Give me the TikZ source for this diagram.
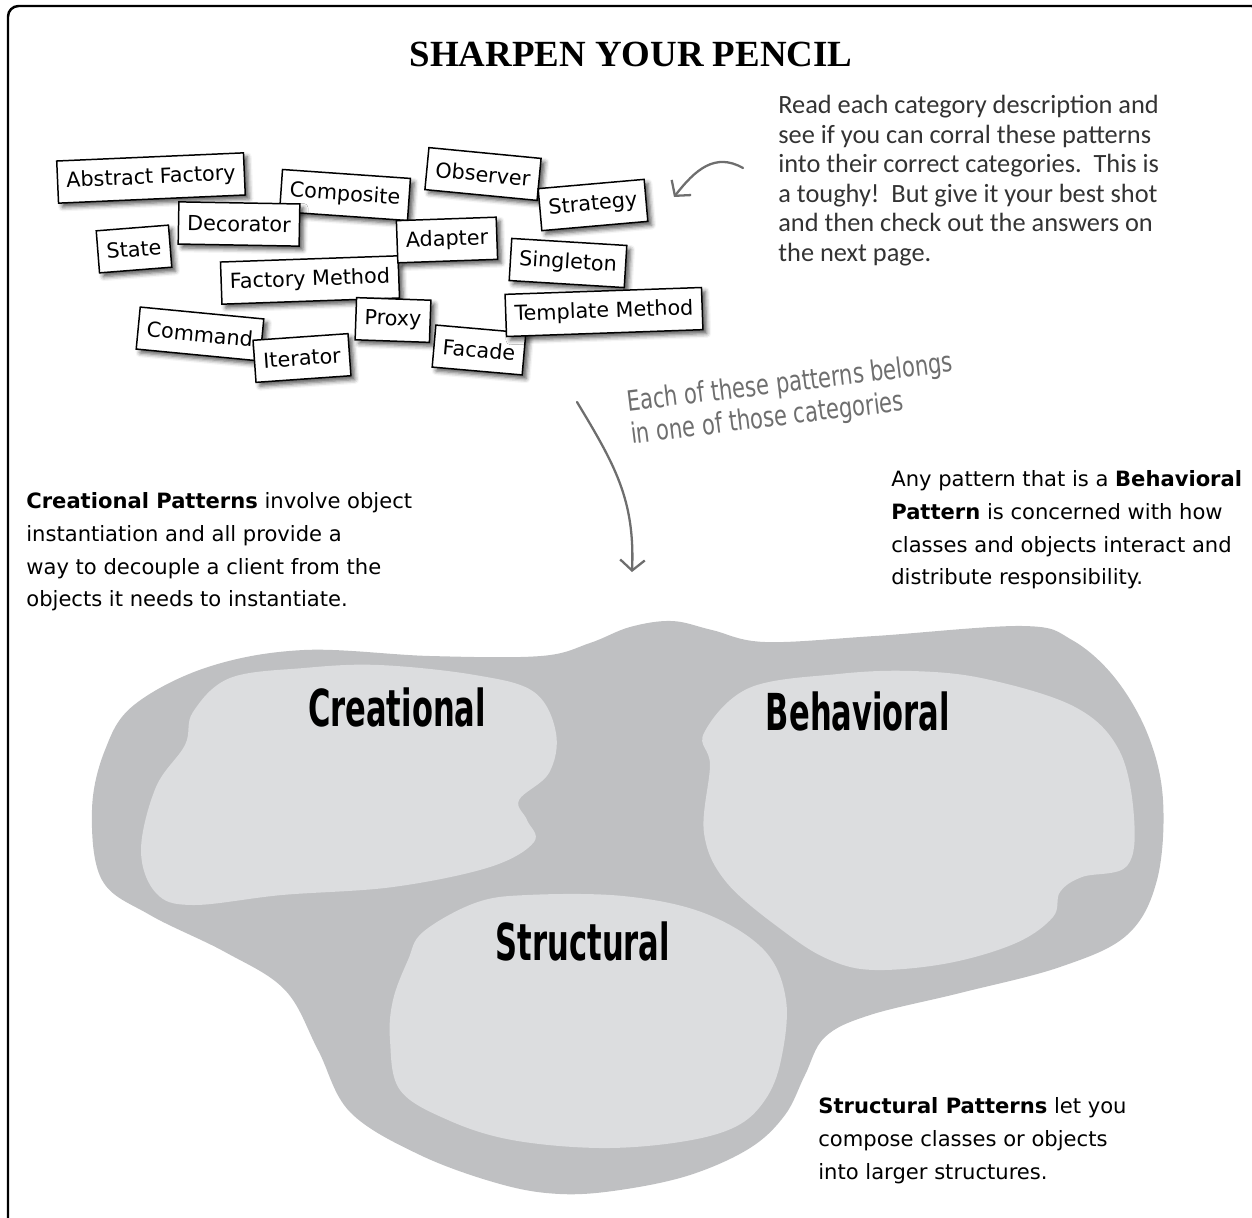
\documentclass[tikz,border=0pt]{standalone}
\usepackage{fontspec}
\setmainfont{DejaVu Sans}
\newfontfamily\titlefont{Liberation Serif}
\newfontfamily\descfont{Carlito}
\newfontfamily\condfont[FakeStretch=0.75]{DejaVu Sans}
\usetikzlibrary{shadows.blur,arrows.meta}
\definecolor{outerg}{RGB}{191,192,194}
\definecolor{innerg}{RGB}{220,221,223}
\definecolor{arrowg}{RGB}{110,110,110}
\tikzset{
  pat/.style={draw=black, line width=0.85pt, fill=white, inner xsep=5pt, minimum height=24pt,
    font=\fontsize{11.8}{13}\selectfont,
    blur shadow={shadow xshift=2.2pt, shadow yshift=-2.2pt, shadow blur radius=2.5pt, shadow opacity=65}},
  para/.style={anchor=north west, align=left, inner sep=0pt},
  cat/.style={font=\bfseries\fontsize{29}{30}\selectfont, inner sep=0pt},
  handarrow/.style={draw=arrowg, line width=1.3pt, line cap=round,
    -{Straight Barb[length=6pt,width=14pt,line width=1.3pt]}}
}
\newcommand{\catlabel}[1]{\scalebox{0.6}[1]{#1}}
\begin{document}
\begin{tikzpicture}[x=0.02cm,y=-0.02cm]
\useasboundingbox (0,0) rectangle (1252,1218);
\begin{scope}
\clip (0,0) rectangle (1252,1218);
% frame
\draw[line width=1.4pt, rounded corners=6pt] (8,6) rectangle (1262,1232);

% blobs
\fill[outerg] plot[smooth cycle, tension=0.6] coordinates {
 (105,750) (134,705) (208,667) (304,650) (430,656) (541,656) (590,643) (630,627)
 (672,621) (712,630) (765,642) (875,636) (1023,626) (1072,640) (1115,678) (1148,735)
 (1163,800) (1157,880) (1127,935) (1060,967) (960,993) (870,1015) (825,1037)
 (805,1075) (785,1115) (750,1148) (690,1175) (620,1190) (560,1194) (500,1184)
 (420,1155) (350,1112) (318,1050) (285,990) (225,952) (150,915) (102,880) (92,810)};
\fill[innerg] plot[smooth cycle, tension=0.6] coordinates {
 (193,712) (230,678) (304,668) (379,665) (475,675) (534,692) (556,733) (549,773)
 (519,800) (527,820) (534,842) (490,867) (393,887) (282,895) (193,905) (156,893)
 (141,850) (156,787) (185,745)};
\fill[innerg] plot[smooth cycle, tension=0.6] coordinates {
 (704,733) (749,688) (838,674) (912,671) (986,679) (1075,707) (1119,750) (1134,817)
 (1127,866) (1082,877) (1060,892) (1053,917) (1016,943) (949,963) (875,970)
 (830,960) (786,933) (727,883) (704,833) (710,765)};
\fill[innerg] plot[smooth cycle, tension=0.6] coordinates {
 (408,960) (423,932) (475,903) (527,895) (623,896) (704,913) (764,950) (786,1000)
 (781,1060) (765,1100) (735,1127) (680,1142) (600,1148) (512,1140) (448,1120)
 (400,1090) (390,1040) (393,1000)};
\node[cat] (crea) at (397,707) {\catlabel{Creational}};
\node[cat] (beha) at (858,711) {\catlabel{Behavioral}};
\node[cat] (stru) at (583,941) {\catlabel{Structural}};

% title
\node[font=\titlefont\bfseries\fontsize{21}{24}\selectfont] (title) at (631,54) {SHARPEN YOUR PENCIL};

% description
\node[para, font=\descfont\fontsize{15}{16.8}\selectfont, text=black!80] (desc) at (778,95)
 {Read each category description and\\see if you can corral these patterns\\into their correct categories.\ \ This is\\a toughy!\ \ But give it your best shot\\and then check out the answers on\\the next page.};

% pattern cards
\node[pat, rotate=2.5] (af) at (151,178) {Abstract Factory};
\node[pat, rotate=-4] (comp) at (345,195) {Composite};
\node[pat, rotate=-1] (deco) at (239,224) {Decorator};
\node[pat, rotate=4.5] (state) at (134,249) {State};
\node[pat, rotate=2] (fm) at (310,280) {Factory Method};
\node[pat, rotate=-5.5] (cmd) at (200,334) {Command};
\node[pat, rotate=4] (iter) at (302,358) {Iterator};
\node[pat, rotate=-2] (proxy) at (393,320) {Proxy};
\node[pat, rotate=-5.5] (obs) at (483,174) {Observer};
\node[pat, rotate=5] (strat) at (593,205) {Strategy};
\node[pat, rotate=2] (adapt) at (447,240) {Adapter};
\node[pat, rotate=-3.5] (single) at (568,263) {Singleton};
\node[pat, rotate=-5] (facade) at (479,350) {Facade};
\node[pat, rotate=2] (tm) at (604,312) {Template Method};

% small arrow
\coordinate (sa1) at (743,168);
\coordinate (sa2) at (674,197);
\draw[handarrow] (sa1) .. controls (715,152) and (695,170) .. (sa2);

% annotation
\node[rotate=7, align=left, text=arrowg, inner sep=0pt,
  font=\condfont\fontsize{16}{18.5}\selectfont] (note) at (792,400)
 {Each of these patterns belongs\\in one of those categories};
\coordinate (ba1) at (577,402);
\coordinate (ba2) at (632,572);
\draw[handarrow] (ba1) .. controls (615,465) and (635,500) .. (ba2);

% paragraphs
\node[para, font=\fontsize{12}{18.7}\selectfont] (crep) at (26,492)
 {\textbf{Creational Patterns} involve object\\instantiation and all provide a\\way to decouple a client from the\\objects it needs to instantiate.};
\node[para, font=\fontsize{12}{18.7}\selectfont] (behp) at (891,470)
 {Any pattern that is a \textbf{Behavioral}\\\textbf{Pattern} is concerned with how\\classes and objects interact and\\distribute responsibility.};
\node[para, font=\fontsize{12}{18.7}\selectfont] (strp) at (818,1097)
 {\textbf{Structural Patterns} let you\\compose classes or objects\\into larger structures.};
\end{scope}
\end{tikzpicture}
\end{document}
